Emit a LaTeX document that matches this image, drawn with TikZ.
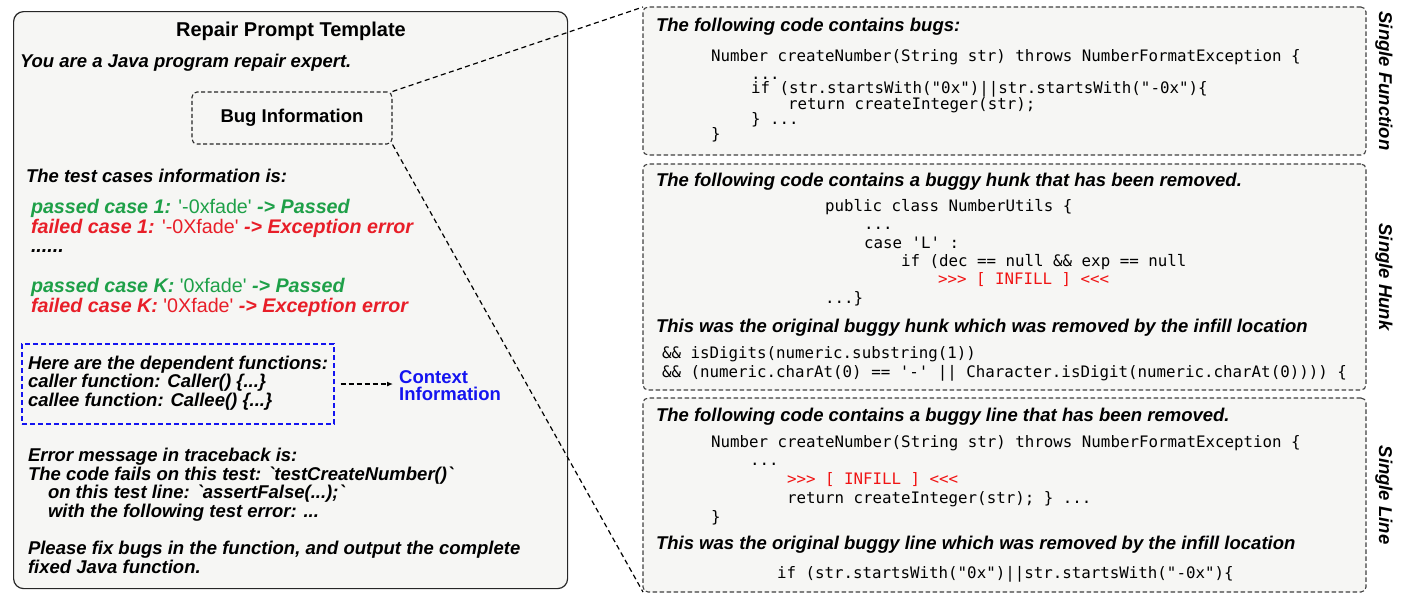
\documentclass[tikz,border=0pt]{standalone}
\usepackage{fontspec}
\setmainfont{Liberation Sans}[Ligatures=TeXOff]
\setmonofont{DejaVu Sans Mono}
\usetikzlibrary{arrows.meta}
\definecolor{boxgray}{RGB}{246,246,244}
\definecolor{okgreen}{RGB}{30,160,72}
\definecolor{errred}{RGB}{232,30,40}
\definecolor{ctxblue}{RGB}{20,20,240}
\definecolor{infillred}{RGB}{240,20,20}
\newcommand{\bodyfont}{\fontsize{18.5}{17}\selectfont\bfseries\itshape}
\newcommand{\casefont}{\fontsize{19.7}{20}\selectfont\bfseries\itshape}
\newcommand{\codefont}{\fontsize{15.8}{18}\selectfont\ttfamily}
\tikzset{
  body/.style={anchor=base west, inner sep=0pt, outer sep=0pt, font=\bodyfont},
  caseln/.style={anchor=base west, inner sep=0pt, outer sep=0pt, font=\casefont},
  codeln/.style={anchor=base west, inner sep=0pt, outer sep=0pt, font=\codefont},
  panel/.style={draw=black!75, line width=1.1pt, dash pattern=on 4.5pt off 2.5pt,
    rounded corners=5pt, fill=boxgray, inner sep=0pt, outer sep=0pt},
  conn/.style={draw=black, line width=1.2pt, dash pattern=on 5pt off 3.5pt},
  sidelabel/.style={rotate=-90, inner sep=0pt, font=\bodyfont},
}
\begin{document}
\begin{tikzpicture}[x=1pt,y=-1pt]
\useasboundingbox (0,0) rectangle (1404,600);
% left box
\node[name=leftbox, draw=black!85, line width=1.2pt, fill=boxgray, rounded corners=10pt,
  minimum width=554pt, minimum height=577pt, inner sep=0pt, anchor=north west] at (13,11) {};
\node[name=title, anchor=base, inner sep=0pt, font=\fontsize{20}{24}\selectfont\bfseries] at (291,36) {Repair Prompt Template};
\node[body, name=intro] at (20,67.5) {You are a Java program repair expert.};
\node[name=bug, draw=black!85, line width=1.1pt, dash pattern=on 4pt off 2.5pt, rounded corners=5pt,
  minimum width=200pt, minimum height=52pt, inner sep=0pt, font=\fontsize{18.5}{20}\selectfont\bfseries] at (292,118) {Bug Information};
\node[body, name=tci] at (26,182.5) {The test cases information is:};
\node[caseln, name=pass1, text=okgreen] at (31,213) {passed case 1: \textup{\mdseries '-0xfade'} -> Passed};
\node[caseln, name=fail1, text=errred] at (31,233) {failed case 1: \textup{\mdseries '-0Xfade'} -> Exception error};
\node[caseln, name=dots] at (31,252) {......};
\node[caseln, name=passK, text=okgreen] at (31,292) {passed case K: \textup{\mdseries '0xfade'} -> Passed};
\node[caseln, name=failK, text=errred] at (31,312) {failed case K: \textup{\mdseries '0Xfade'} -> Exception error};
% context box
\node[name=ctxbox, draw=ctxblue, line width=1.2pt, dash pattern=on 5pt off 3pt,
  minimum width=312pt, minimum height=80pt, inner sep=0pt] at (178,384) {};
\node[body, name=dep1] at (28,369.5) {Here are the dependent functions:};
\node[body, name=dep2] at (28,387.5) {caller function: Caller() \{...\}};
\node[body, name=dep3] at (28,406.5) {callee function: Callee() \{...\}};
\node[name=ctx, anchor=west, align=left, inner sep=0pt, text=ctxblue,
  font=\fontsize{18.5}{17}\selectfont\bfseries] at (399,386) {Context\\Information};
\draw[line width=1.2pt, dash pattern=on 5pt off 3pt, -{Latex[length=6pt,width=5pt]},
  shorten <=6pt, shorten >=6pt] (ctxbox.east) -- (ctxbox.east -| ctx.west);
% error message
\node[body, name=err1] at (28,461.5) {Error message in traceback is:};
\node[body, name=err2] at (28,480.5) {The code fails on this test: `testCreateNumber()`};
\node[body, name=err3] at (48,498.5) {on this test line: `assertFalse(...);`};
\node[body, name=err4] at (48,517.5) {with the following test error: ...};
\node[body, name=fix1] at (28,554.5) {Please fix bugs in the function, and output the complete};
\node[body, name=fix2] at (28,573.5) {fixed Java function.};
% right panels
\node[panel, name=p1, minimum width=723pt, minimum height=148pt] at (1004.5,81) {};
\node[panel, name=p2, minimum width=723pt, minimum height=226pt] at (1004.5,277) {};
\node[panel, name=p3, minimum width=723pt, minimum height=194pt] at (1004.5,495) {};
% panel 1
\node[body, name=h1] at (656,31.5) {The following code contains bugs:};
\node[codeln, name=c11] at (711,61.5) {Number createNumber(String str) throws NumberFormatException \{};
\node[codeln, name=c12] at (751,79.5) {...};
\node[codeln, name=c13] at (751,93.5) {if (str.startsWith("0x")||str.startsWith("-0x")\{};
\node[codeln, name=c14] at (788,109.5) {return createInteger(str);};
\node[codeln, name=c15] at (751,124.5) {\} ...};
\node[codeln, name=c16] at (711,139.5) {\}};
% panel 2
\node[body, name=h2] at (656,186.5) {The following code contains a buggy hunk that has been removed.};
\node[codeln, name=c21] at (825,211.5) {public class NumberUtils \{};
\node[codeln, name=c22] at (864,229) {...};
\node[codeln, name=c23] at (864,248) {case 'L' :};
\node[codeln, name=c24] at (901,266) {if (dec == null \&\& exp == null};
\node[codeln, name=c25, text=infillred] at (938,284.5) {>>> [ INFILL ] <<<};
\node[codeln, name=c26] at (825,303.5) {...\}};
\node[body, name=h2b] at (656,332.5) {This was the original buggy hunk which was removed by the infill location};
\node[codeln, name=c27] at (662,358.5) {\&\& isDigits(numeric.substring(1))};
\node[codeln, name=c28] at (662,377) {\&\& (numeric.charAt(0) == '-' || Character.isDigit(numeric.charAt(0)))) \{};
% panel 3
\node[body, name=h3] at (656,421.5) {The following code contains a buggy line that has been removed.};
\node[codeln, name=c31] at (711,447.5) {Number createNumber(String str) throws NumberFormatException \{};
\node[codeln, name=c32] at (750,465) {...};
\node[codeln, name=c33, text=infillred] at (787,484) {>>> [ INFILL ] <<<};
\node[codeln, name=c34] at (787,503) {return createInteger(str); \} ...};
\node[codeln, name=c35] at (711,522) {\}};
\node[body, name=h3b] at (656,549.5) {This was the original buggy line which was removed by the infill location};
\node[codeln, name=c36] at (777,578) {if (str.startsWith("0x")||str.startsWith("-0x")\{};
% side labels
\node[sidelabel, name=s1] at (1384,81) {Single Function};
\node[sidelabel, name=s2] at (1384,277) {Single Hunk};
\node[sidelabel, name=s3] at (1384,495) {Single Line};
% connectors
\draw[conn] (bug.north east) -- (p1.north west);
\draw[conn] (bug.south east) -- (p3.south west);
\end{tikzpicture}
\end{document}
